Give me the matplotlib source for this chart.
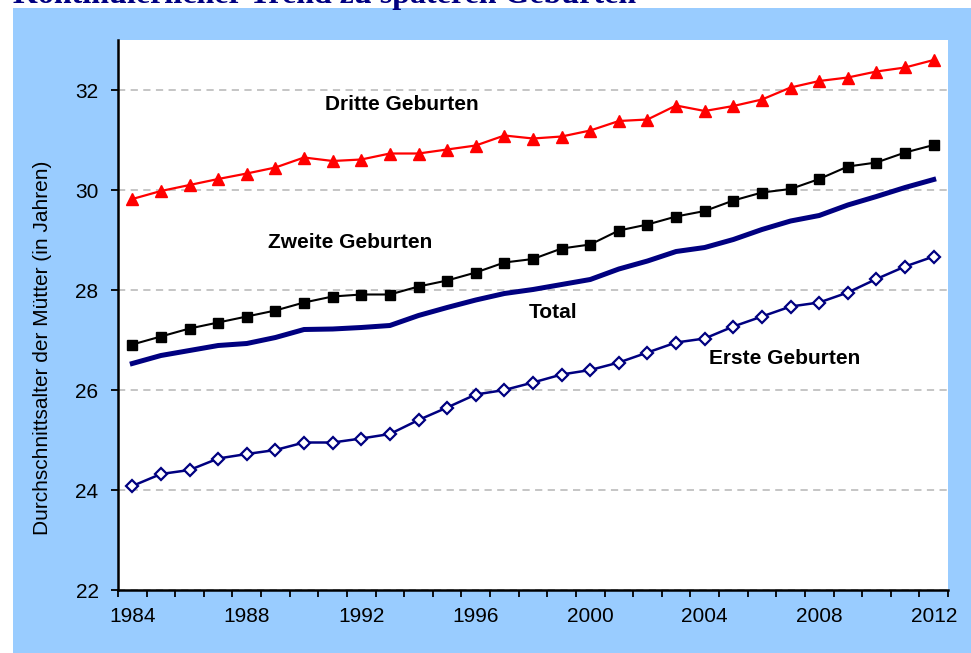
import matplotlib.pyplot as plt
import matplotlib.patches as mpatches
import numpy as np

# daten
jahre = np.arange(1984, 2013)
dritte = [29.82, 29.98, 30.10, 30.22, 30.33, 30.45, 30.65, 30.58, 30.61, 30.73,
          30.73, 30.81, 30.89, 31.09, 31.03, 31.07, 31.19, 31.38, 31.41, 31.69,
          31.58, 31.68, 31.81, 32.05, 32.18, 32.25, 32.37, 32.45, 32.60]
zweite = [26.91, 27.07, 27.23, 27.35, 27.47, 27.59, 27.75, 27.87, 27.91, 27.91,
          28.07, 28.19, 28.35, 28.55, 28.62, 28.83, 28.91, 29.19, 29.31, 29.47,
          29.58, 29.79, 29.95, 30.02, 30.22, 30.47, 30.55, 30.75, 30.90]
total = [26.53, 26.69, 26.79, 26.89, 26.93, 27.05, 27.21, 27.22, 27.25, 27.29,
         27.49, 27.65, 27.80, 27.93, 28.01, 28.11, 28.21, 28.42, 28.58, 28.77,
         28.85, 29.01, 29.21, 29.38, 29.49, 29.70, 29.87, 30.05, 30.21]
erste = [24.08, 24.32, 24.40, 24.63, 24.72, 24.80, 24.95, 24.95, 25.03, 25.12,
         25.40, 25.65, 25.91, 26.00, 26.15, 26.31, 26.40, 26.55, 26.75, 26.95,
         27.03, 27.27, 27.47, 27.67, 27.75, 27.95, 28.22, 28.47, 28.67]

beschriftungen = ["Dritte Geburten", "Zweite Geburten", "Total", "Erste Geburten"]
beschr_pos = [(1993.4, 31.72), (1991.6, 28.94), (1998.7, 27.56), (2006.8, 26.64)]

titel = "Kontinuierlicher Trend zu späteren Geburten"
ylabel = "Durchschnittsalter der Mütter (in Jahren)"

plt.rcParams['font.family'] = ['Liberation Sans', 'DejaVu Sans']

fig = plt.figure(figsize=(9.71, 6.53), dpi=100, facecolor="white")
# hellblauer hintergrund
fig.patches.append(mpatches.Rectangle((13/971, 0), 1, 1 - 8/653, transform=fig.transFigure,
                                      facecolor="#99CCFF", edgecolor="none", zorder=-5))
# titel ist oben angeschnitten wie im original
fig.text(13/971, 1 - 3/653, titel, color="#000080", fontsize=23, fontweight="bold",
         family="Liberation Serif", va="baseline", ha="left")

ax = fig.add_axes([118/971, 63/653, 830/971, 550/653])
ax.set_facecolor("white")

ax.plot(jahre, dritte, color="#FF0000", lw=1.6, marker="^", ms=9, zorder=4)
ax.plot(jahre, zweite, color="black", lw=1.5, marker="s", ms=6.5, zorder=4)
ax.plot(jahre, total, color="#000080", lw=3.6, zorder=3)
ax.plot(jahre, erste, color="#000080", lw=1.8, marker="D", ms=6.5, mfc="white",
        mec="#000080", mew=1.6, zorder=4)

for txt, (x, y) in zip(beschriftungen, beschr_pos):
    ax.text(x, y, txt, fontsize=15, fontweight="bold", ha="center", va="center")

ax.set_xlim(1983.5, 2012.5)
ax.set_ylim(22, 33)
ax.set_yticks(np.arange(22, 33, 2))
ax.set_xticks(np.arange(1983.5, 2013, 1))
ax.set_xticklabels([])
ax.set_xticks(np.arange(1984, 2013, 4), minor=True)
ax.set_xticklabels([str(j) for j in range(1984, 2013, 4)], minor=True)
ax.tick_params(axis="x", which="major", length=5, width=1.3, direction="out")
ax.tick_params(axis="x", which="minor", length=0, pad=12, labelsize=15)
ax.tick_params(axis="y", length=5, width=1.3, direction="out", pad=9, labelsize=15)

ax.grid(axis="y", color="#C0C0C0", linestyle="--", lw=1.3, dashes=(4, 3))
ax.set_axisbelow(True)
for s in ["top", "right"]:
    ax.spines[s].set_visible(False)
for s in ["left", "bottom"]:
    ax.spines[s].set_linewidth(1.8)

fig.text(42/971, 1 - 348/653, ylabel, rotation=90, fontsize=15, ha="center", va="center")

fig.savefig("out.png", dpi=100, facecolor=fig.get_facecolor())
